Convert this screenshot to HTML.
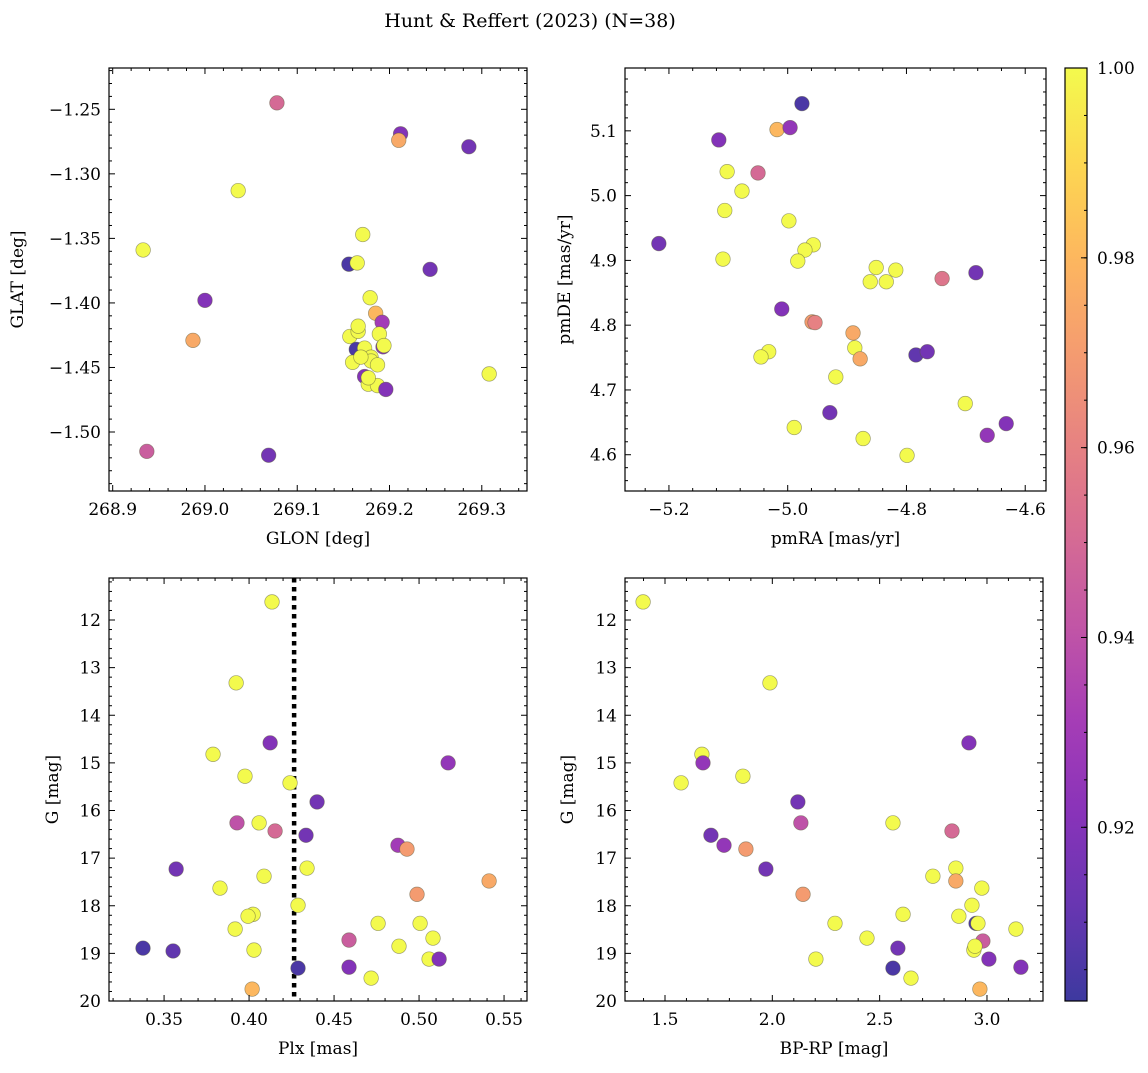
<!DOCTYPE html>
<html><head><meta charset="utf-8">
<style>
html,body{margin:0;padding:0;background:#fff;}
svg text{font-family:"DejaVu Serif","Liberation Serif",serif;fill:#000;}
</style></head>
<body>
<svg id="chart" width="1148" height="1068" xmlns="http://www.w3.org/2000/svg">
<defs>
<linearGradient id="cbgrad" x1="0" y1="1" x2="0" y2="0"></linearGradient>
</defs>
<text x="530" y="27" font-size="19" text-anchor="middle">Hunt &amp; Reffert (2023) (N=38)</text>
</svg>
<script>
// ---- Panel 1: GLON vs GLAT ----
const glon = [269.078,269.212,269.210,269.286,269.036,268.933,269.171,269.156,269.165,269.244,269.000,269.179,269.185,268.987,269.192,269.157,269.166,269.189,269.164,269.193,269.194,269.173,269.180,269.160,269.180,269.169,269.187,269.308,269.173,269.177,269.187,269.196,268.937,269.069,269.166,269.177];
const glat = [-1.245,-1.269,-1.274,-1.279,-1.313,-1.359,-1.347,-1.370,-1.369,-1.374,-1.398,-1.396,-1.408,-1.429,-1.415,-1.426,-1.422,-1.424,-1.436,-1.434,-1.433,-1.435,-1.442,-1.446,-1.445,-1.442,-1.448,-1.455,-1.457,-1.463,-1.464,-1.467,-1.515,-1.518,-1.418,-1.458];
const prob1 = [0.95,0.92,0.975,0.915,1,1,1,0.905,1,0.915,0.92,1,0.98,0.975,0.93,1,1,1,0.905,0.92,1,1,1,1,1,1,1,1,0.92,1,1,0.92,0.945,0.915,1,1];
// ---- Panel 2: pmRA vs pmDE ----
const pmra = [-4.976,-5.116,-5.018,-4.996,-5.102,-5.050,-5.077,-5.106,-5.217,-4.998,-5.109,-4.957,-4.971,-4.983,-4.851,-4.818,-4.861,-4.834,-4.683,-4.740,-5.010,-4.959,-4.954,-4.890,-5.032,-5.045,-4.887,-4.878,-4.784,-4.765,-4.919,-4.701,-4.929,-4.632,-4.664,-4.989,-4.873,-4.799];
const pmde = [5.142,5.086,5.102,5.105,5.037,5.035,5.007,4.977,4.926,4.961,4.902,4.924,4.916,4.899,4.889,4.885,4.867,4.867,4.881,4.872,4.825,4.805,4.804,4.788,4.759,4.751,4.765,4.748,4.754,4.759,4.720,4.679,4.665,4.648,4.630,4.642,4.625,4.599];
const prob2 = [0.905,0.92,0.98,0.925,1,0.95,1,1,0.915,1,1,1,1,1,1,1,1,1,0.915,0.955,0.92,0.97,0.96,0.975,1,1,1,0.975,0.91,0.915,1,1,0.915,0.92,0.925,1,1,1];
// ---- Panel 3: Plx vs G ----
const plx = [0.4135,0.3924,0.3788,0.4124,0.3976,0.4241,0.5171,0.4400,0.3929,0.4059,0.4153,0.4335,0.3571,0.4876,0.4929,0.4341,0.4088,0.3829,0.5412,0.4988,0.4288,0.4024,0.3994,0.3918,0.4759,0.5006,0.4029,0.5082,0.3553,0.3376,0.4588,0.4882,0.5059,0.5118,0.4288,0.4588,0.4718,0.4018];
const g3 = [11.62,13.32,14.82,14.58,15.28,15.42,15.00,15.82,16.26,16.26,16.43,16.52,17.23,16.73,16.81,17.21,17.38,17.63,17.48,17.76,17.99,18.18,18.22,18.49,18.37,18.37,18.93,18.68,18.95,18.89,18.72,18.85,19.12,19.12,19.31,19.29,19.52,19.75];
const prob3 = [1,1,1,0.92,1,1,0.925,0.915,0.94,1,0.95,0.915,0.915,0.93,0.97,1,1,1,0.975,0.97,1,1,1,1,1,1,1,1,0.91,0.905,0.945,1,1,0.92,0.905,0.92,1,0.98];
const plxLine = 0.4265;
// ---- Panel 4: BP-RP vs G ----
const bprp = [1.398,1.989,1.672,2.916,1.863,1.575,1.677,2.119,2.133,2.562,2.837,1.714,1.970,1.775,1.877,2.855,2.748,2.976,2.855,2.143,2.930,2.609,2.869,3.135,2.292,2.949,2.958,2.939,2.441,2.981,2.585,2.944,2.203,3.009,2.562,3.158,2.646,2.967];
const g4 = [11.62,13.32,14.82,14.58,15.28,15.42,15.00,15.82,16.26,16.26,16.43,16.52,17.23,16.73,16.81,17.21,17.38,17.63,17.48,17.76,17.99,18.18,18.22,18.49,18.37,18.37,18.37,18.93,18.68,18.74,18.89,18.85,19.12,19.12,19.31,19.29,19.52,19.75];
const prob4 = [1,1,1,0.92,1,1,0.925,0.915,0.94,1,0.95,0.915,0.915,0.925,0.97,1,1,1,0.975,0.97,1,1,1,1,1,0.905,1,1,1,0.945,0.915,1,1,0.92,0.905,0.92,1,0.98];
// colorbar
const cbTicks = [0.92,0.94,0.96,0.98,1.00];
const vmin = 0.9017, vmax = 1.0;

const NS = "http://www.w3.org/2000/svg";
const svg = document.getElementById('chart');
function el(tag, attrs, parent){ const e=document.createElementNS(NS,tag); for(const k in attrs) e.setAttribute(k,attrs[k]); (parent||svg).appendChild(e); return e; }

const plasma = [[13,8,135],[65,4,157],[106,0,168],[143,13,164],[177,42,144],[204,71,120],[225,100,98],[242,132,75],[252,166,54],[252,206,37],[240,249,33]];
function cmap(t){ t=Math.max(0,Math.min(1,t)); const f=t*10, i=Math.min(9,Math.floor(f)), r=f-i;
  const a=plasma[i], b=plasma[i+1];
  return 'rgb('+[0,1,2].map(k=>Math.round((a[k]+(b[k]-a[k])*r)*0.8+255*0.2)).join(',')+')'; }
function colorOf(p){ return cmap((p-vmin)/(vmax-vmin)); }

function fmt(v,d){ const s=Math.abs(v).toFixed(d); return (v<-1e-9?'\u2212':'')+s; }

function panel(cfg){
  const {name,x0,x1,y0,y1,xmin,xmax,ymin,ymax,invertY,xMajor,xMinor,yMajor,yMinor,xd,yd,xlabel,ylabel,xs,ys,ps} = cfg;
  const g = el('g',{});
  
  
  const sx = v => x0 + (v-xmin)/(xmax-xmin)*(x1-x0);
  const sy = v => invertY ? y0 + (v-ymin)/(ymax-ymin)*(y1-y0) : y1 - (v-ymin)/(ymax-ymin)*(y1-y0);
  const clip = el('clipPath',{id:'clip-'+name},g);
  el('rect',{x:x0,y:y0,width:x1-x0,height:y1-y0},clip);
  const pts = el('g',{'clip-path':'url(#clip-'+name+')'},g);
  if(cfg.extra) cfg.extra(pts,sx,sy);
  for(let i=0;i<xs.length;i++){
    const c = el('circle',{cx:sx(xs[i]),cy:sy(ys[i]),r:7.3,fill:colorOf(ps[i]),stroke:'rgba(90,90,60,0.55)','stroke-width':0.7},pts);
    
    
  }
  el('rect',{x:x0,y:y0,width:x1-x0,height:y1-y0,fill:'none',stroke:'#000','stroke-width':1.2},g);
  const eps=1e-9;
  const n0=Math.ceil(xmin/xMinor-eps), n1=Math.floor(xmax/xMinor+eps);
  for(let n=n0;n<=n1;n++){ const v=n*xMinor, px=sx(v);
    const maj = Math.abs(v/xMajor-Math.round(v/xMajor))<1e-6;
    const L = maj?6:3;
    el('line',{x1:px,x2:px,y1:y1,y2:y1-L,stroke:'#000','stroke-width':1},g);
    el('line',{x1:px,x2:px,y1:y0,y2:y0+L,stroke:'#000','stroke-width':1},g);
    if(maj){ const t=el('text',{x:px,y:y1+24,'font-size':17,'text-anchor':'middle'},g); t.textContent=fmt(v,xd);
      
       }
  }
  const m0=Math.ceil(ymin/yMinor-eps), m1=Math.floor(ymax/yMinor+eps);
  for(let n=m0;n<=m1;n++){ const v=n*yMinor, py=sy(v);
    const maj = Math.abs(v/yMajor-Math.round(v/yMajor))<1e-6;
    const L = maj?6:3;
    el('line',{x1:x0,x2:x0+L,y1:py,y2:py,stroke:'#000','stroke-width':1},g);
    el('line',{x1:x1,x2:x1-L,y1:py,y2:py,stroke:'#000','stroke-width':1},g);
    if(maj){ const t=el('text',{x:x0-8,y:py+6,'font-size':17,'text-anchor':'end'},g); t.textContent=fmt(v,yd);
      
       }
  }
  const xl=el('text',{x:(x0+x1)/2,y:y1+53,'font-size':17,'text-anchor':'middle'},g); xl.textContent=xlabel;
  
  
  const lx = cfg.ylabelX;
  const yl=el('text',{x:lx,y:(y0+y1)/2,'font-size':17,'text-anchor':'middle',transform:'rotate(-90 '+lx+' '+((y0+y1)/2)+')'},g); yl.textContent=ylabel;
  
  
}

panel({name:'glon-glat-panel',x0:109,x1:527,y0:68,y1:491,xmin:268.896,xmax:269.349,ymin:-1.5457,ymax:-1.218,xMajor:0.1,xMinor:0.02,yMajor:0.05,yMinor:0.01,xd:1,yd:2,xlabel:'GLON [deg]',ylabel:'GLAT [deg]',ylabelX:23,xs:glon,ys:glat,ps:prob1});
panel({name:'pm-panel',x0:625,x1:1046,y0:68,y1:491,xmin:-5.274,xmax:-4.565,ymin:4.544,ymax:5.197,xMajor:0.2,xMinor:0.04,yMajor:0.1,yMinor:0.02,xd:1,yd:1,xlabel:'pmRA [mas/yr]',ylabel:'pmDE [mas/yr]',ylabelX:570,xs:pmra,ys:pmde,ps:prob2});
panel({name:'plx-g-panel',x0:109,x1:527,y0:578,y1:1001,xmin:0.3176,xmax:0.5635,ymin:11.118,ymax:20,invertY:true,xMajor:0.05,xMinor:0.01,yMajor:1,yMinor:0.2,xd:2,yd:0,xlabel:'Plx [mas]',ylabel:'G [mag]',ylabelX:58,xs:plx,ys:g3,ps:prob3,
  extra:(p,sx,sy)=>{ const l=el('line',{x1:sx(plxLine),x2:sx(plxLine),y1:578,y2:1001,stroke:'#000','stroke-width':4.5,'stroke-dasharray':'4.5,4.5'},p);
    
     }});
panel({name:'color-magnitude-panel',x0:625,x1:1043,y0:578,y1:1001,xmin:1.3137,xmax:3.261,ymin:11.118,ymax:20,invertY:true,xMajor:0.5,xMinor:0.1,yMajor:1,yMinor:0.2,xd:1,yd:0,xlabel:'BP-RP [mag]',ylabel:'G [mag]',ylabelX:573,xs:bprp,ys:g4,ps:prob4});

// colorbar
const grad = document.getElementById('cbgrad');
for(let i=0;i<=20;i++){ el('stop',{offset:(i/20),'stop-color':cmap(i/20)},grad); }
const cb = el('g',{});


const cx0=1065,cx1=1087,cy0=68,cy1=1001;
el('rect',{x:cx0,y:cy0,width:cx1-cx0,height:cy1-cy0,fill:'url(#cbgrad)',stroke:'#000','stroke-width':1.2},cb);
const cys = v => cy1-(v-vmin)/(vmax-vmin)*(cy1-cy0);
for(let n=Math.ceil(vmin/0.005);n<=Math.floor(vmax/0.005+1e-9);n++){ const v=n*0.005; el('line',{x1:cx1,x2:cx1-3,y1:cys(v),y2:cys(v),stroke:'#000','stroke-width':1},cb); }
cbTicks.forEach(v=>{ const y=cys(v); el('line',{x1:cx1,x2:cx1-6,y1:y,y2:y,stroke:'#000','stroke-width':1},cb);
  const t=el('text',{x:cx1+10,y:y+6,'font-size':17},cb); t.textContent=v.toFixed(2);
  
   });
</script>
</body></html>
